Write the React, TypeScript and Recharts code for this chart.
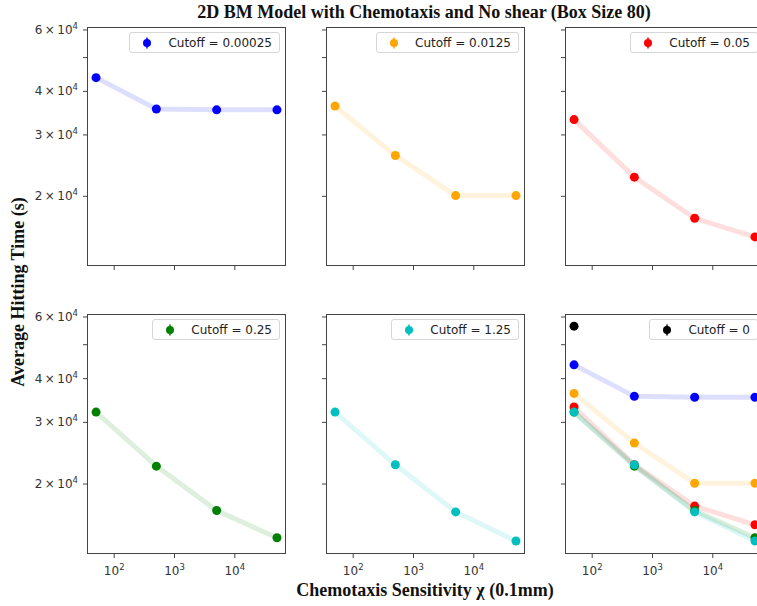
import { LineChart, Line, XAxis, YAxis } from 'recharts';

// chemotaxis sensitivity (0.1mm) values used on the x axis
const chemotaxis = [50, 500, 5000, 50000];

// average hitting time (s) per cutoff
const hitCutoff00025 = [43800, 35600, 35400, 35400];
const hitCutoff0125 = [36300, 26200, 20100, 20100];
const hitCutoff05 = [33200, 22700, 17300, 15300];
const hitCutoff25 = [32100, 22500, 16800, 14050];
const hitCutoff125 = [32100, 22700, 16650, 13750];
const hitCutoff0 = [56500];

const cutoffNames = ['0.00025', '0.0125', '0.05', '0.25', '1.25', '0'];

const xTicks = [100, 1000, 10000];
const yTicks = [20000, 30000, 40000, 50000, 60000];
const yLabeledTicks = [20000, 30000, 40000, 60000];

const X_DOMAIN = [35.4, 70600];
const Y_DOMAIN = [12625, 61190];

const COL_X = [87, 326, 565];
const ROW_Y = [27, 314];
const ROW_H = [239, 240];
const PANEL_W = 199;

const series = [
  { name: cutoffNames[0], color: '#0000ff', values: hitCutoff00025 },
  { name: cutoffNames[1], color: '#ffa500', values: hitCutoff0125 },
  { name: cutoffNames[2], color: '#ff0000', values: hitCutoff05 },
  { name: cutoffNames[3], color: '#008000', values: hitCutoff25 },
  { name: cutoffNames[4], color: '#00bfbf', values: hitCutoff125 },
  { name: cutoffNames[5], color: '#000000', values: hitCutoff0 },
];

const toPoints = (values: number[]) =>
  values.map((y, i) => ({ x: chemotaxis[i], y }));

// which series are drawn in each panel, and which one the legend names
const panels = [
  { row: 0, col: 0, show: [0], legend: 0 },
  { row: 0, col: 1, show: [1], legend: 1 },
  { row: 0, col: 2, show: [2], legend: 2 },
  { row: 1, col: 0, show: [3], legend: 3 },
  { row: 1, col: 1, show: [4], legend: 4 },
  { row: 1, col: 2, show: [0, 1, 2, 3, 4, 5], legend: 5 },
];

const TICK_FONT = 'DejaVu Sans, sans-serif';
const SERIF = 'Liberation Serif, serif';
const SPINE = '#444';

function YTick(props: any) {
  const { x, y, payload, show } = props;
  const v = payload.value;
  if (!show || !yLabeledTicks.includes(v)) return <g />;
  const mant = Math.round(v / 10000);
  return (
    <text x={x} y={y} dy={4} textAnchor="end" fontSize={12} fontFamily={TICK_FONT} fill="#333">
      {mant}{'\u2009×\u2009'}10
      <tspan dy={-5} fontSize={8.5}>
        4
      </tspan>
    </text>
  );
}

function XTick(props: any) {
  const { x, y, payload, show } = props;
  if (!show) return <g />;
  const exp = Math.round(Math.log10(payload.value));
  return (
    <text x={x} y={y} dy={15} textAnchor="middle" fontSize={12} fontFamily={TICK_FONT} fill="#333">
      10
      <tspan dy={-5} fontSize={8.5}>
        {exp}
      </tspan>
    </text>
  );
}

function LegendBox({ name, color }: { name: string; color: string }) {
  return (
    <div
      style={{
        position: 'absolute',
        top: 15,
        right: 16,
        height: 21,
        boxSizing: 'border-box',
        display: 'flex',
        alignItems: 'center',
        border: '1px solid #d6d6d6',
        borderRadius: 3,
        background: 'rgba(255,255,255,0.85)',
        padding: '0 7px 0 10px',
        fontFamily: TICK_FONT,
        fontSize: 12,
        color: '#222',
        whiteSpace: 'nowrap',
      }}
    >
      <svg width={14} height={14} style={{ marginRight: 14 }}>
        <line x1={7} x2={7} y1={1.5} y2={12.5} stroke={color} strokeWidth={1.5} />
        <circle cx={7} cy={7} r={4} fill={color} />
      </svg>
      <span>Cutoff = {name}</span>
    </div>
  );
}

function Panel({ row, col, show, legend }: { row: number; col: number; show: number[]; legend: number }) {
  const px = COL_X[col];
  const py = ROW_Y[row];
  const ph = ROW_H[row];
  const width = PANEL_W + 60 + 10;
  const height = ph + 10 + 30;
  return (
    <div style={{ position: 'absolute', left: px - 60, top: py - 10, width, height }}>
      <LineChart width={width} height={height} margin={{ top: 10, right: 10, bottom: 0, left: 0 }}>
        <XAxis
          dataKey="x"
          type="number"
          scale="log"
          domain={X_DOMAIN}
          allowDataOverflow
          ticks={xTicks}
          interval={0}
          height={30}
          axisLine={false}
          tickSize={4}
          tickMargin={2}
          tickLine={{ stroke: SPINE }}
          tick={(p: any) => <XTick {...p} show={row === 1} />}
        />
        <YAxis
          dataKey="y"
          type="number"
          scale="log"
          domain={Y_DOMAIN}
          allowDataOverflow
          ticks={yTicks}
          interval={0}
          width={60}
          axisLine={false}
          tickSize={4}
          tickMargin={5}
          tickLine={{ stroke: SPINE }}
          tick={(p: any) => <YTick {...p} show={col === 0} />}
        />
        {show.map((si) => {
          const s = series[si];
          return (
            <Line
              key={s.name}
              data={toPoints(s.values)}
              dataKey="y"
              type="linear"
              stroke={s.color}
              strokeWidth={5}
              strokeOpacity={0.13}
              dot={{ r: 4.5, fill: s.color, stroke: 'none', fillOpacity: 1, strokeOpacity: 1 }}
              activeDot={false}
              isAnimationActive={false}
            />
          );
        })}
      </LineChart>
      <div
        style={{
          position: 'absolute',
          left: 60,
          top: 10,
          width: PANEL_W,
          height: ph,
          boxSizing: 'border-box',
          border: `1px solid ${SPINE}`,
          pointerEvents: 'none',
        }}
      />
      <LegendBox name={series[legend].name} color={series[legend].color} />
    </div>
  );
}

export default function App() {
  return (
    <div
      style={{
        position: 'absolute',
        left: 0,
        top: 0,
        width: 757,
        height: 606,
        overflow: 'hidden',
        background: '#fff',
      }}
    >
      <svg width={757} height={606} style={{ position: 'absolute', left: 0, top: 0 }}>
        <text x={424} y={18} textAnchor="middle" fontFamily={SERIF} fontWeight="bold" fontSize={18} fill="#111">
          2D BM Model with Chemotaxis and No shear (Box Size 80)
        </text>
        <text x={425} y={596} textAnchor="middle" fontFamily={SERIF} fontWeight="bold" fontSize={18} fill="#111">
          Chemotaxis Sensitivity χ (0.1mm)
        </text>
        <text
          transform="translate(24 292) rotate(-90)"
          textAnchor="middle"
          fontFamily={SERIF}
          fontWeight="bold"
          fontSize={18}
          fill="#111"
        >
          Average Hitting Time (s)
        </text>
      </svg>
      {panels.map((p) => (
        <Panel key={`${p.row}-${p.col}`} {...p} />
      ))}
    </div>
  );
}
